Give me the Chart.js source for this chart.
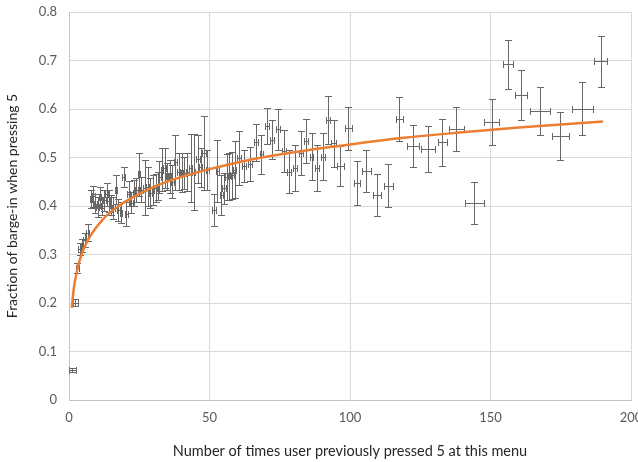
<!DOCTYPE html>
<html>
<head>
<meta charset="utf-8">
<script src="https://cdn.jsdelivr.net/npm/chart.js@4.4.1/dist/chart.umd.min.js"></script>
<style>
  html, body { margin: 0; padding: 0; background: #fff; }
  #wrap { width: 638px; height: 462px; }
</style>
</head>
<body>
<div id="wrap"><canvas id="c" width="638" height="462"></canvas></div>
<script>
// ---- observed points: x, fraction, y error (+/-), x error (+/-) ----
const pointX = [1.2, 2.3, 3.0, 3.8, 4.6, 5.6, 6.6, 7.8, 8.6, 9.4, 10.2, 11.0, 11.8, 12.6, 13.4, 14.2, 15.0, 15.8, 16.7, 17.6, 18.5, 19.4, 20.4, 21.3,
  22.2, 23.1, 24.0, 24.9, 25.7, 26.9, 28.0, 29.0, 29.9, 30.8, 31.5, 32.2, 33.1, 34.0, 35.0, 35.8, 36.7, 37.9, 39.1, 40.3, 41.1, 42.1, 43.3, 44.4,
  45.9, 46.8, 48.0, 49.2, 51.5, 52.8, 54.2, 55.1, 56.2, 57.1, 58.0, 58.9, 60.5, 62.4, 64.5, 66.5, 68.5, 70.4, 72.4, 74.5, 76.5, 78.3, 80.4,
  82.4, 84.4, 86.3, 88.3, 90.3, 92.2, 94.2, 96.6, 99.4, 102.5, 105.8, 109.7, 113.7, 117.6, 122.4, 127.7, 132.8, 137.8, 144.3, 150.5,
  156.2, 160.9, 167.5, 174.9, 182.7, 189.2];
const pointY = [0.062, 0.201, 0.272, 0.311, 0.318, 0.330, 0.345, 0.414, 0.420, 0.405, 0.398, 0.418, 0.400, 0.412, 0.424, 0.410, 0.402, 0.396, 0.434, 0.392, 0.386, 0.460, 0.383, 0.425,
  0.407, 0.426, 0.433, 0.465, 0.434, 0.438, 0.440, 0.426, 0.433, 0.438, 0.442, 0.459, 0.475, 0.478, 0.461, 0.461, 0.450, 0.490, 0.471, 0.469, 0.469, 0.470, 0.479, 0.470,
  0.497, 0.480, 0.509, 0.474, 0.392, 0.473, 0.423, 0.437, 0.460, 0.461, 0.463, 0.475, 0.499, 0.482, 0.487, 0.531, 0.507, 0.565, 0.537, 0.558, 0.513, 0.471, 0.478,
  0.509, 0.534, 0.502, 0.478, 0.502, 0.577, 0.529, 0.482, 0.560, 0.447, 0.472, 0.423, 0.442, 0.579, 0.524, 0.518, 0.531, 0.559, 0.406, 0.573,
  0.692, 0.629, 0.596, 0.544, 0.601, 0.698];
const errY = [0.004, 0.008, 0.010, 0.012, 0.013, 0.015, 0.018, 0.018, 0.022, 0.020, 0.020, 0.022, 0.018, 0.022, 0.024, 0.022, 0.020, 0.022, 0.030, 0.022, 0.022, 0.020, 0.025, 0.026,
  0.022, 0.027, 0.024, 0.045, 0.025, 0.057, 0.040, 0.031, 0.031, 0.029, 0.029, 0.033, 0.045, 0.041, 0.028, 0.034, 0.034, 0.057, 0.038, 0.040, 0.033, 0.040, 0.070, 0.078,
  0.050, 0.040, 0.076, 0.041, 0.033, 0.064, 0.041, 0.032, 0.048, 0.049, 0.049, 0.059, 0.056, 0.033, 0.035, 0.038, 0.040, 0.038, 0.040, 0.043, 0.043, 0.045, 0.048,
  0.045, 0.046, 0.048, 0.048, 0.048, 0.050, 0.048, 0.041, 0.045, 0.045, 0.043, 0.044, 0.044, 0.046, 0.044, 0.047, 0.049, 0.045, 0.043, 0.048,
  0.050, 0.052, 0.050, 0.050, 0.054, 0.053];
const errX = [1.2, 0.8, 0.5, 0.5, 0.5, 0.5, 0.5, 0.5, 0.5, 0.5, 0.5, 0.5, 0.5, 0.5, 0.5, 0.5, 0.5, 0.5, 0.5, 0.5, 0.5, 0.5, 0.5, 0.5,
  0.5, 0.5, 0.5, 0.5, 0.5, 0.5, 0.5, 0.5, 0.5, 0.5, 0.5, 0.5, 0.5, 0.5, 0.5, 0.5, 0.5, 0.5, 0.5, 0.5, 0.5, 0.5, 0.5, 0.5,
  0.6, 0.6, 0.6, 0.6, 0.7, 0.6, 0.6, 0.6, 0.6, 0.6, 0.6, 0.6, 0.7, 0.7, 0.7, 0.7, 0.7, 0.7, 0.7, 0.7, 0.7, 0.7, 0.7,
  0.7, 0.7, 0.7, 0.7, 0.7, 0.7, 0.8, 1.3, 1.2, 1.2, 1.5, 1.5, 1.5, 1.4, 2.1, 2.5, 1.6, 2.6, 3.4, 2.7,
  1.9, 2.1, 3.6, 3.1, 3.7, 2.2];

// ---- logarithmic trend line ----
const trendX = [1, 1.5, 2, 3, 4, 6, 8, 12, 16, 20, 30, 40, 50, 65, 80, 100, 120, 140, 160, 175, 190];
const trendY = [0.190, 0.220, 0.241, 0.270, 0.292, 0.321, 0.342, 0.372, 0.393, 0.409, 0.439, 0.460, 0.476, 0.496, 0.511, 0.527, 0.541, 0.552, 0.562, 0.568, 0.574];

const xTicks = [0, 50, 100, 150, 200];
const yTicks = [0, 0.1, 0.2, 0.3, 0.4, 0.5, 0.6, 0.7, 0.8];

const FONT = 'Lato, "Open Sans", sans-serif';

// draws the x/y error crosses, below the trend line
const errorBars = {
  id: 'errorBars',
  beforeDatasetsDraw(chart) {
    const { ctx, scales: { x, y } } = chart;
    const cap = 3.5;
    const px = v => Math.round(v) + 0.5;
    ctx.save();
    ctx.strokeStyle = '#676767';
    ctx.lineWidth = 1;
    ctx.beginPath();
    pointX.forEach((vx, i) => {
      const cx = px(x.getPixelForValue(vx));
      const cy = px(y.getPixelForValue(pointY[i]));
      const top = px(y.getPixelForValue(pointY[i] + errY[i]));
      const bot = px(y.getPixelForValue(pointY[i] - errY[i]));
      const l = px(x.getPixelForValue(vx - errX[i]));
      const r = px(x.getPixelForValue(vx + errX[i]));
      // vertical
      ctx.moveTo(cx, top); ctx.lineTo(cx, bot);
      ctx.moveTo(cx - cap, top); ctx.lineTo(cx + cap, top);
      ctx.moveTo(cx - cap, bot); ctx.lineTo(cx + cap, bot);
      // horizontal
      ctx.moveTo(l, cy); ctx.lineTo(r, cy);
      ctx.moveTo(l, cy - cap); ctx.lineTo(l, cy + cap);
      ctx.moveTo(r, cy - cap); ctx.lineTo(r, cy + cap);
    });
    ctx.stroke();
    ctx.restore();
  }
};

new Chart(document.getElementById('c'), {
  type: 'scatter',
  data: {
    datasets: [
      {
        label: 'Observed',
        data: pointX.map((v, i) => ({ x: v, y: pointY[i] })),
        pointRadius: 0,
        showLine: false,
      },
      {
        label: 'Log trend',
        data: trendX.map((v, i) => ({ x: v, y: trendY[i] })),
        showLine: true,
        pointRadius: 0,
        borderColor: '#ED7D31',
        borderWidth: 2.5,
        cubicInterpolationMode: 'monotone',
        fill: false,
      },
    ]
  },
  options: {
    responsive: false,
    animation: false,
    events: [],
    layout: { padding: { top: 12, right: 7, left: 0, bottom: 0 } },
    plugins: { legend: { display: false }, tooltip: { enabled: false } },
    scales: {
      x: {
        type: 'linear', min: 0, max: 200,
        afterBuildTicks: s => { s.ticks = xTicks.map(v => ({ value: v })); },
        afterFit: s => { s.height = 62; s.paddingLeft = 0; s.paddingRight = 0; },
        grid: { color: '#d9d9d9', drawTicks: false },
        border: { color: '#c4c4c4' },
        ticks: { color: '#595959', padding: 10, font: { family: FONT, size: 13 } },
        title: { display: true, text: 'Number of times user previously pressed 5 at this menu', color: '#262626',
                 font: { family: FONT, size: 14.5 }, padding: { top: 0, bottom: 2 } },
      },
      y: {
        type: 'linear', min: 0, max: 0.8,
        afterBuildTicks: s => { s.ticks = yTicks.map(v => ({ value: v })); },
        afterFit: s => { s.width = 69; s.paddingTop = 0; s.paddingBottom = 0; },
        grid: { color: '#d9d9d9', drawTicks: false },
        border: { color: '#c4c4c4' },
        ticks: { color: '#595959', padding: 12, font: { family: FONT, size: 13 }, callback: v => String(v) },
        title: { display: true, text: 'Fraction of barge-in when pressing 5', color: '#262626',
                 font: { family: FONT, size: 14 }, padding: { top: 4, bottom: 0 } },
      }
    }
  },
  plugins: [errorBars]
});
</script>
</body>
</html>
